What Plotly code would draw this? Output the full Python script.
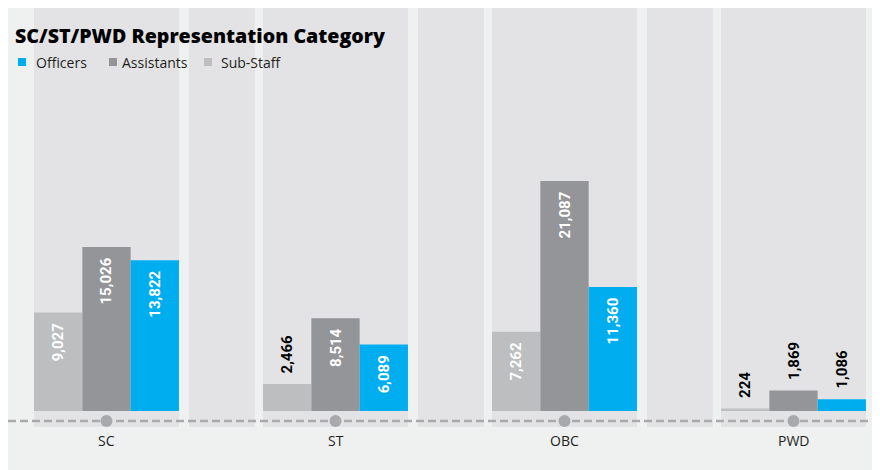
import plotly.graph_objects as go

# data
categories = ["SC", "ST", "OBC", "PWD"]
officers = [13822, 6089, 11360, 1086]
assistants = [15026, 8514, 21087, 1869]
sub_staff = [9027, 2466, 7262, 224]

# which labels sit above the bar (too short to hold the text)
sub_staff_pos = ["inside", "outside", "inside", "outside"]
assistants_pos = ["inside", "inside", "inside", "outside"]
officers_pos = ["inside", "inside", "inside", "outside"]

# legend order as in the reference
legend_names = ["Officers", "Assistants", "Sub-Staff"]
legend_colors = ["#00aeef", "#939598", "#bcbec0"]

W, H = 872, 462   # the page body adds 8px margin on top/left
BG = "#eff0f0"
BAND = "#e3e3e5"
LABEL_FONT = "Roboto, sans-serif"
TEXT_FONT = "Open Sans, Noto Sans, sans-serif"
PAD = "\u2002"    # en space, keeps the labels a bit off the bar end


def px_x(p):
    return p / W


def px_y(p):
    return 1 - p / H


def bar_labels(values, positions):
    # rotated text reads bottom-up: pad at the end when inside, at the start when outside
    out = []
    for v, p in zip(values, positions):
        out.append(f"{v:,}{PAD}" if p == "inside" else f"{PAD}{v:,}")
    return out


def add_bars(fig, name, values, positions, color):
    fig.add_trace(go.Bar(
        x=list(range(len(categories))),
        y=values,
        name=name,
        marker=dict(color=color, line=dict(width=0)),
        text=bar_labels(values, positions),
        textposition=positions,
        textangle=-90,
        insidetextanchor="end",
        insidetextfont=dict(color="white", size=15, family=LABEL_FONT, weight="bold"),
        outsidetextfont=dict(color="black", size=15, family=LABEL_FONT, weight="bold"),
        cliponaxis=False,
        showlegend=False,
        hoverinfo="skip",
    ))


def build_chart():
    fig = go.Figure()

    # left to right inside a group: Sub-Staff, Assistants, Officers
    add_bars(fig, "Sub-Staff", sub_staff, sub_staff_pos, "#bcbec0")
    add_bars(fig, "Assistants", assistants, assistants_pos, "#939598")
    add_bars(fig, "Officers", officers, officers_pos, "#00aeef")

    n = len(categories)
    shapes = []
    # darker column behind each group and between groups
    for i in range(n):
        shapes.append(dict(type="rect", xref="x", yref="y", layer="below",
                           x0=i - 0.3166, x1=i + 0.3166, y0=-1467, y1=36949,
                           fillcolor=BAND, line=dict(width=0)))
    for i in range(n - 1):
        shapes.append(dict(type="rect", xref="x", yref="y", layer="below",
                           x0=i + 0.36, x1=i + 0.648, y0=-1467, y1=36949,
                           fillcolor=BAND, line=dict(width=0)))
    # dashed baseline under the bars
    shapes.append(dict(type="line", xref="paper", yref="y", x0=0, x1=1,
                       y0=-917, y1=-917, layer="above",
                       line=dict(color="#aaaaac", width=2.6, dash="8px,4px")))

    # dots on the dashed line, one per category
    fig.add_trace(go.Scatter(
        x=list(range(n)), y=[-917] * n, mode="markers",
        marker=dict(color="#a7a9ac", size=12),
        showlegend=False, hoverinfo="skip",
    ))

    annotations = [
        dict(x=i, y=-2659, xref="x", yref="y", text=c, showarrow=False,
             font=dict(size=14, color="#231f20", family=TEXT_FONT))
        for i, c in enumerate(categories)
    ]

    # hand-made legend: small squares and labels under the title
    sq_left = [10, 101, 196]
    txt_left = [26, 112, 211]
    for name, color, sx, tx in zip(legend_names, legend_colors, sq_left, txt_left):
        shapes.append(dict(type="rect", xref="paper", yref="paper", layer="above",
                           x0=px_x(sx), x1=px_x(sx + 8), y0=px_y(58), y1=px_y(50),
                           fillcolor=color, line=dict(width=0)))
        annotations.append(dict(x=px_x(tx), y=px_y(54), xref="paper", yref="paper",
                                xanchor="left", yanchor="middle", text=name,
                                showarrow=False,
                                font=dict(size=14, color="#231f20", family=TEXT_FONT)))

    fig.update_layout(
        width=W, height=H,
        margin=dict(l=0, r=0, t=0, b=0),
        paper_bgcolor=BG,
        plot_bgcolor=BG,
        barmode="group",
        bargap=0.367,
        bargroupgap=0,
        shapes=shapes,
        annotations=annotations,
        showlegend=False,
        title=dict(text="SC/ST/PWD Representation Category",
                   x=7 / W, xref="container", xanchor="left",
                   y=1 - 28 / H, yref="container", yanchor="middle",
                   font=dict(size=19.6, color="black", family=TEXT_FONT, weight=800)),
        xaxis=dict(range=[-0.4301, 3.3777], visible=False, fixedrange=True),
        yaxis=dict(range=[-5409, 36949], visible=False, fixedrange=True),
    )
    return fig


if __name__ == "__main__":
    fig = build_chart()
    fig.write_html("out.html")
